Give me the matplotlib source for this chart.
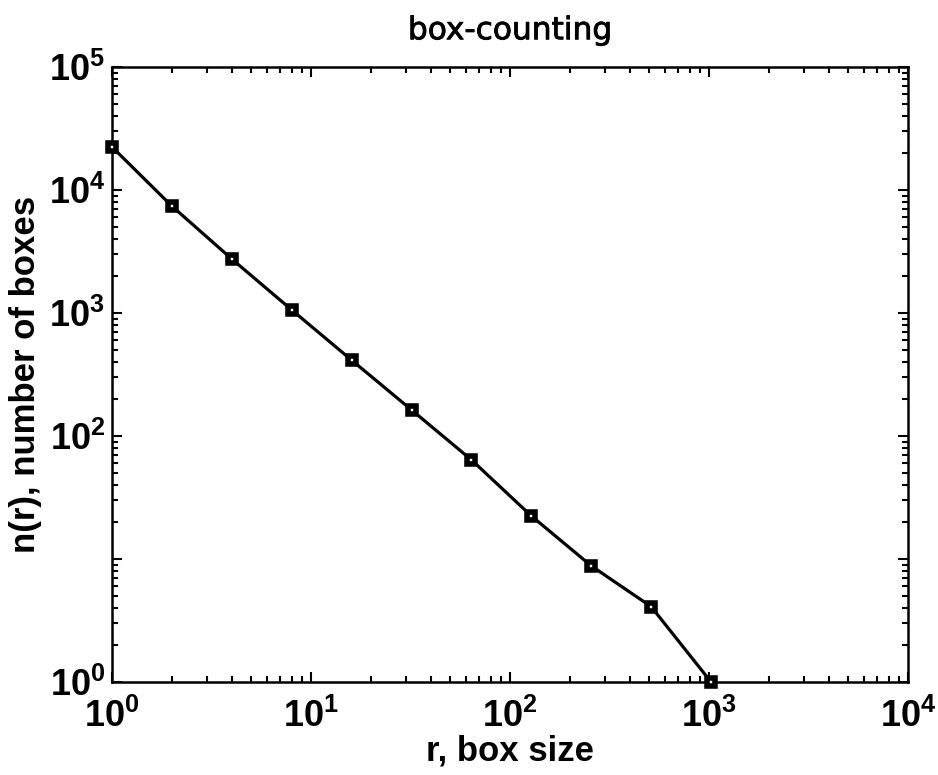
import matplotlib
matplotlib.use("Agg")
import matplotlib.pyplot as plt
import matplotlib.patheffects as pe
from matplotlib.ticker import LogLocator, NullFormatter, FixedLocator, FixedFormatter

plt.rcParams['font.family'] = ['Liberation Sans', 'DejaVu Sans']
plt.rcParams['mathtext.fontset'] = 'custom'
plt.rcParams['mathtext.rm'] = 'Liberation Sans:bold'
plt.rcParams['mathtext.bf'] = 'Liberation Sans:bold'
plt.rcParams['mathtext.it'] = 'Liberation Sans:bold'

# data
box_size = [1, 2, 4, 8, 16, 32, 64, 128, 256, 512, 1024]
n_boxes = [22400, 7400, 2750, 1060, 414, 163, 64, 22.4, 8.8, 4.1, 1.0]

x_ticks = [1, 10, 100, 1000, 10000]
x_tick_labels = [r'$10^{0}$', r'$10^{1}$', r'$10^{2}$', r'$10^{3}$', r'$10^{4}$']
y_ticks = [1, 10, 100, 1000, 10000, 100000]
y_tick_labels = [r'$10^{0}$', '', r'$10^{2}$', r'$10^{3}$', r'$10^{4}$', r'$10^{5}$']

title = "box-counting"
xlabel = "r, box size"
ylabel = "n(r), number of boxes"

fig = plt.figure(figsize=(9.38, 7.75), dpi=100)
ax = fig.add_axes([0.1194, 0.12, 0.8486, 0.7935])

ax.plot(box_size, n_boxes, color='black', linewidth=2.3,
        marker='s', markersize=5.5, markerfacecolor='white',
        markeredgecolor='black', markeredgewidth=4, clip_on=False, zorder=5)

ax.set_xscale('log')
ax.set_yscale('log')
ax.set_xlim(1, 1e4)
ax.set_ylim(1, 1e5)

ax.xaxis.set_major_locator(FixedLocator(x_ticks))
ax.xaxis.set_major_formatter(FixedFormatter(x_tick_labels))
ax.yaxis.set_major_locator(FixedLocator(y_ticks))
ax.yaxis.set_major_formatter(FixedFormatter(y_tick_labels))
ax.xaxis.set_minor_locator(LogLocator(base=10, subs=range(2, 10), numticks=20))
ax.yaxis.set_minor_locator(LogLocator(base=10, subs=range(2, 10), numticks=20))
ax.xaxis.set_minor_formatter(NullFormatter())
ax.yaxis.set_minor_formatter(NullFormatter())

ax.tick_params(which='both', direction='in', top=True, right=True, width=1.5, color='black')
ax.tick_params(which='major', length=7, labelsize=26)
ax.tick_params(axis='x', which='major', pad=12)
ax.tick_params(axis='y', which='major', pad=5)
ax.tick_params(which='minor', length=4)

for s in ax.spines.values():
    s.set_linewidth(1.8)
    s.set_color('black')

t = ax.set_title(title, fontsize=22.5, pad=20, family='DejaVu Sans')
t.set_path_effects([pe.withStroke(linewidth=0.6, foreground='black')])
ax.set_xlabel(xlabel, fontsize=25, fontweight='bold', labelpad=0)
ax.set_ylabel(ylabel, fontsize=25, fontweight='bold', labelpad=5)

fig.savefig("out.png", dpi=100, facecolor='white')
